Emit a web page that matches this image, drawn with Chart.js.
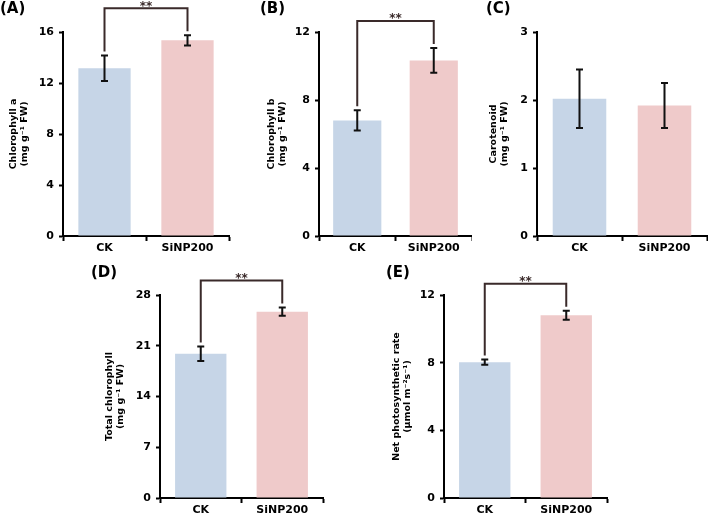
<!DOCTYPE html>
<html>
<head>
<meta charset="utf-8">
<script src="https://cdn.jsdelivr.net/npm/chart.js@4.4.1/dist/chart.umd.min.js"></script>
<style>
  html, body { margin: 0; padding: 0; background: #fff; }
  #fig { position: relative; width: 708px; height: 514px; overflow: hidden; background: #fff; }
  #fig canvas { position: absolute; }
</style>
</head>
<body>
<div id="fig"></div>
<script>
const FONT = "'DejaVu Sans', Verdana, sans-serif";

const groups = ['CK', 'SiNP200'];
const barColors = ['#c6d5e7', '#efcaca'];

// means and standard deviations
const chlA = [13.15, 15.35];
const chlASd = [1.0, 0.4];
const chlB = [6.8, 10.33];
const chlBSd = [0.6, 0.73];
const carot = [2.02, 1.92];
const carotSd = [0.43, 0.33];
const totalChl = [19.9, 25.7];
const totalChlSd = [1.0, 0.57];
const netPn = [8.03, 10.8];
const netPnSd = [0.15, 0.27];

// y axis tick labels
const chlATicks = [0, 4, 8, 12, 16];
const chlBTicks = [0, 4, 8, 12];
const carotTicks = [0, 1, 2, 3];
const totalChlTicks = [0, 7, 14, 21, 28];
const netPnTicks = [0, 4, 8, 12];

// box = canvas [x, y, w, h], area = plot [left, top, right, bottom] in page px
const panels = [
  { letter: '(A)', title: ['Chlorophyll a', '(mg g⁻¹ FW)'], values: chlA, sd: chlASd, ticks: chlATicks, sig: '**',
    box: [0, 0, 236, 262], area: [63, 32, 229, 236], letterAt: [0, 13], titleAt: 14 },
  { letter: '(B)', title: ['Chlorophyll b', '(mg g⁻¹ FW)'], values: chlB, sd: chlBSd, ticks: chlBTicks, sig: '**',
    box: [236, 0, 236, 262], area: [319, 32, 483, 236], letterAt: [260, 13], titleAt: 272 },
  { letter: '(C)', title: ['Carotenoid', '(mg g⁻¹ FW)'], values: carot, sd: carotSd, ticks: carotTicks, sig: null,
    box: [472, 0, 236, 262], area: [537, 32, 707, 236], letterAt: [486, 13], titleAt: 494 },
  { letter: '(D)', title: ['Total chlorophyll', '(mg g⁻¹ FW)'], values: totalChl, sd: totalChlSd, ticks: totalChlTicks, sig: '**',
    box: [80, 256, 250, 258], area: [160, 295, 323, 498], letterAt: [91, 277], titleAt: 110 },
  { letter: '(E)', title: ['Net photosynthetic rate', '(μmol m⁻²s⁻¹)'], values: netPn, sd: netPnSd, ticks: netPnTicks, sig: '**',
    box: [370, 256, 250, 258], area: [444, 295, 607, 498], letterAt: [386, 277], titleAt: 397 },
];

// error bars, significance bracket and panel letter
function panelMarks(p) {
  const [bx, by] = p.box;
  return {
    id: 'panelMarks',
    afterDatasetsDraw(chart) {
      const ctx = chart.ctx;
      const y = chart.scales.y;
      const bars = chart.getDatasetMeta(0).data;
      const tops = [];
      ctx.save();
      ctx.lineWidth = 2;
      ctx.strokeStyle = '#111';
      bars.forEach((bar, i) => {
        const hi = y.getPixelForValue(p.values[i] + p.sd[i]);
        const lo = y.getPixelForValue(p.values[i] - p.sd[i]);
        tops.push(hi);
        ctx.beginPath();
        ctx.moveTo(bar.x, hi); ctx.lineTo(bar.x, lo);
        ctx.moveTo(bar.x - 3.5, hi); ctx.lineTo(bar.x + 3.5, hi);
        ctx.moveTo(bar.x - 3.5, lo); ctx.lineTo(bar.x + 3.5, lo);
        ctx.stroke();
      });
      if (p.sig) {
        const level = Math.min(...tops) - 27;
        const x0 = bars[0].x, x1 = bars[1].x;
        ctx.strokeStyle = '#3a2a2a';
        ctx.lineJoin = 'miter';
        ctx.beginPath();
        ctx.moveTo(x0, tops[0] - 4);
        ctx.lineTo(x0, level);
        ctx.lineTo(x1, level);
        ctx.lineTo(x1, tops[1] - 4);
        ctx.stroke();
        ctx.fillStyle = '#3a2a2a';
        ctx.font = `bold 12px ${FONT}`;
        ctx.textAlign = 'center';
        ctx.textBaseline = 'alphabetic';
        ctx.fillText(p.sig, (x0 + x1) / 2, level + 1.5);
      }
      ctx.fillStyle = '#000';
      ctx.font = `bold 15px ${FONT}`;
      ctx.textAlign = 'left';
      ctx.textBaseline = 'alphabetic';
      ctx.fillText(p.letter, p.letterAt[0] - bx, p.letterAt[1] - by);
      ctx.restore();
    },
  };
}

function makeChart(p) {
  const [bx, by, bw, bh] = p.box;
  const [L, T, R, B] = p.area;
  const canvas = document.createElement('canvas');
  canvas.width = bw;
  canvas.height = bh;
  canvas.style.left = bx + 'px';
  canvas.style.top = by + 'px';
  document.getElementById('fig').appendChild(canvas);

  const tickFont = { family: FONT, size: 11, weight: 'bold' };
  const titleFont = { family: FONT, size: 9.5, weight: 'bold', lineHeight: 1.1 };
  const lh = 9.5 * 1.1;

  return new Chart(canvas, {
    type: 'bar',
    data: {
      labels: groups,
      datasets: [{
        data: p.values,
        backgroundColor: barColors,
        borderWidth: 0,
        barPercentage: 0.63,
        categoryPercentage: 1,
      }],
    },
    options: {
      responsive: false,
      animation: false,
      devicePixelRatio: 1,
      layout: { padding: { left: 0, top: T - by, right: bx + bw - R, bottom: 0 } },
      plugins: { legend: { display: false }, tooltip: { enabled: false } },
      scales: {
        x: {
          offset: true,
          grid: { offset: true, drawOnChartArea: false, tickLength: 5, tickWidth: 2, tickColor: '#000' },
          border: { display: true, width: 2, color: '#000' },
          ticks: { color: '#000', font: tickFont, padding: 1, maxRotation: 0 },
          afterFit: (s) => { s.height = by + bh - B; },
        },
        y: {
          min: p.ticks[0],
          max: p.ticks[p.ticks.length - 1],
          afterBuildTicks: (s) => { s.ticks = p.ticks.map((v) => ({ value: v })); },
          grid: { drawOnChartArea: false, tickLength: 4, tickWidth: 2, tickColor: '#000' },
          border: { display: true, width: 2, color: '#000' },
          ticks: { color: '#000', font: tickFont, padding: 5 },
          title: {
            display: true,
            text: p.title,
            color: '#000',
            font: titleFont,
            padding: { top: p.titleAt - bx - lh / 2, bottom: 0 },
          },
          afterFit: (s) => { s.width = L - bx; },
        },
      },
    },
    plugins: [panelMarks(p)],
  });
}

panels.forEach(makeChart);
</script>
</body>
</html>
